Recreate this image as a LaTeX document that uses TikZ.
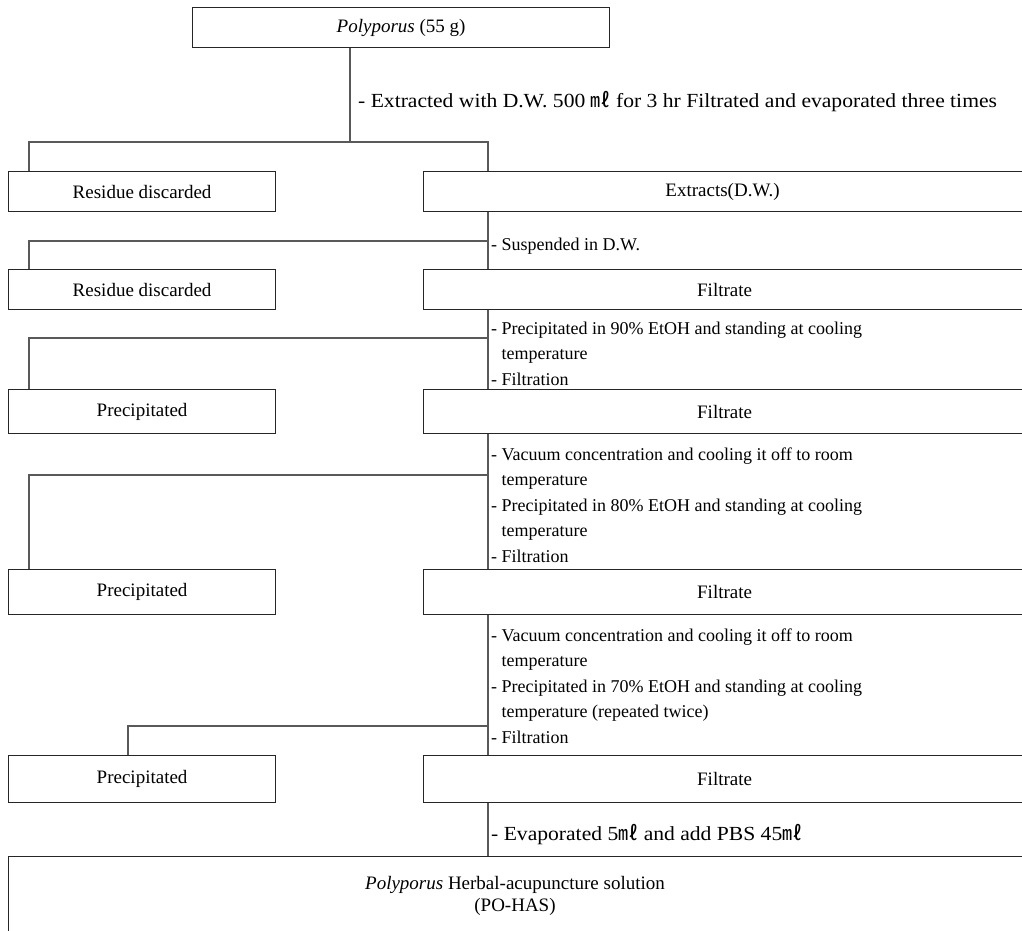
\documentclass[tikz,border=0pt]{standalone}
\usepackage{fontspec}
\setmainfont{Liberation Serif}
\newfontfamily\wideserif[FakeStretch=1.08]{Liberation Serif}
\newfontfamily\cjkfont{Noto Sans CJK KR}
\newcommand{\mlunit}{{\cjkfont ㎖}}
\begin{document}
\begin{tikzpicture}[x=1pt,y=-1pt,
  font=\fontsize{19}{25.5}\selectfont,
  box/.style={draw=black!85, line width=1.2pt, rectangle, inner sep=0pt, anchor=north west},
  conn/.style={draw=black!65, line width=1.1pt},
  note/.style={anchor=north west, align=left, inner sep=0pt, font=\fontsize{18}{25.5}\selectfont},
  widenote/.style={anchor=north west, align=left, inner sep=0pt, font=\wideserif\fontsize{20}{25.5}\selectfont}]
\useasboundingbox (0,0) rectangle (1022,931);
\clip (0,0) rectangle (1022,931);
% reference coordinates
\coordinate (sp) at (488,0);
\coordinate (lx) at (29,0);
\coordinate (lxb) at (128,0);
\coordinate (h1) at (350,142);
\coordinate (h2) at (488,241);
\coordinate (h3) at (488,338);
\coordinate (h4) at (488,475);
\coordinate (h5) at (488,726);
% boxes
\node[box, minimum width=417pt, minimum height=40pt] (top) at (192,7) {\textit{Polyporus} (55 g)};
\node[box, minimum width=267pt, minimum height=40pt] (res1) at (8,171) {Residue discarded};
\node[box, minimum width=602pt, minimum height=40pt] (ext) at (423,171) {\hspace*{-4pt}Extracts(D.W.)};
\node[box, minimum width=267pt, minimum height=40pt] (res2) at (8,269) {Residue discarded};
\node[box, minimum width=602pt, minimum height=40pt] (fil1) at (423,269) {Filtrate};
\node[box, minimum width=267pt, minimum height=44pt] (pre1) at (8,389) {Precipitated};
\node[box, minimum width=602pt, minimum height=44pt] (fil2) at (423,389) {Filtrate};
\node[box, minimum width=267pt, minimum height=45pt] (pre2) at (8,569) {Precipitated};
\node[box, minimum width=602pt, minimum height=45pt] (fil3) at (423,569) {Filtrate};
\node[box, minimum width=267pt, minimum height=47pt] (pre3) at (8,755) {Precipitated};
\node[box, minimum width=602pt, minimum height=47pt] (fil4) at (423,755) {Filtrate};
\node[box, minimum width=1017pt, minimum height=100pt] (final) at (8,856) {};
\node[align=center, inner sep=0pt, font=\fontsize{19}{22}\selectfont] (finaltxt) at (515,896) {\textit{Polyporus} Herbal-acupuncture solution\\(PO-HAS)};
% notes
\node[widenote] (n1) at (358,89) {\strut- Extracted with D.W. 500 \mlunit\ for 3 hr Filtrated and evaporated three times};
\node[note] (n2) at (491,232) {\strut- Suspended in D.W.};
\node[note] (n3) at (491,316) {\strut- Precipitated in 90\% EtOH and standing at cooling\\\strut\hphantom{- }temperature\\\strut- Filtration};
\node[note] (n4) at (491,442) {\strut- Vacuum concentration and cooling it off to room\\\strut\hphantom{- }temperature\\\strut- Precipitated in 80\% EtOH and standing at cooling\\\strut\hphantom{- }temperature\\\strut- Filtration};
\node[note] (n5) at (491,623) {\strut- Vacuum concentration and cooling it off to room\\\strut\hphantom{- }temperature\\\strut- Precipitated in 70\% EtOH and standing at cooling\\\strut\hphantom{- }temperature (repeated twice)\\\strut- Filtration};
\node[widenote] (n6) at (491,822) {\strut- Evaporated 5\mlunit\ and add PBS 45\mlunit};
% connectors
\draw[conn] (top.south -| h1) -- (h1);
\draw[conn] (res1.north -| lx) -- (lx |- h1) -- (sp |- h1) -- (ext.north -| sp);
\draw[conn] (ext.south -| sp) -- (fil1.north -| sp);
\draw[conn] (res2.north -| lx) |- (h2);
\draw[conn] (fil1.south -| sp) -- (fil2.north -| sp);
\draw[conn] (pre1.north -| lx) |- (h3);
\draw[conn] (fil2.south -| sp) -- (fil3.north -| sp);
\draw[conn] (pre2.north -| lx) |- (h4);
\draw[conn] (fil3.south -| sp) -- (fil4.north -| sp);
\draw[conn] (pre3.north -| lxb) |- (h5);
\draw[conn] (fil4.south -| sp) -- (final.north -| sp);
\end{tikzpicture}
\end{document}
